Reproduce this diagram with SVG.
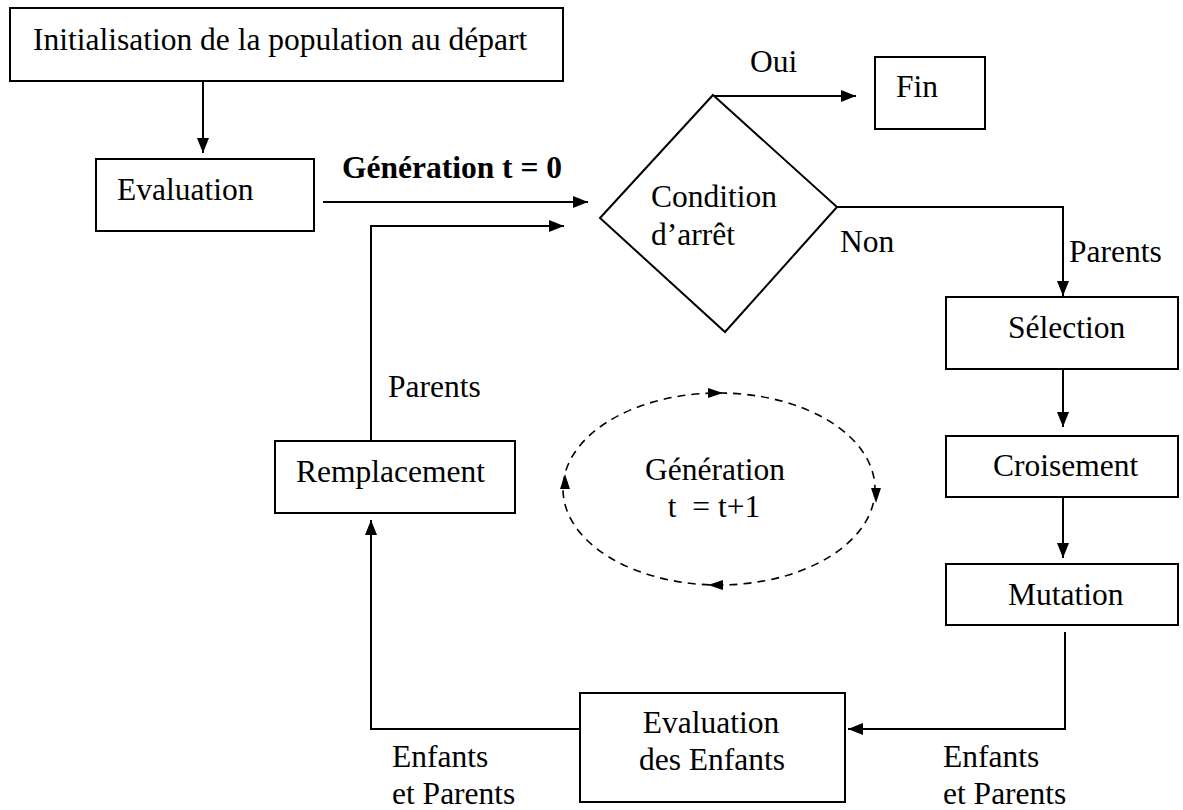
<svg xmlns="http://www.w3.org/2000/svg" width="1183" height="810" viewBox="0 0 1183 810">
<style>
  .box { fill: #fff; stroke: #000; stroke-width: 2; }
  .t { font-family: "Liberation Serif", "Times New Roman", serif; font-size: 31.5px; fill: #000; }
  .b { font-weight: bold; }
  .c { text-anchor: middle; }
  .ln { fill: none; stroke: #000; stroke-width: 2; }
  .dash { fill: none; stroke: #000; stroke-width: 1.6; stroke-dasharray: 8 6; }
  .ah { fill: #000; stroke: none; }
</style>
<defs>
  <marker id="arr" markerUnits="userSpaceOnUse" markerWidth="16" markerHeight="12" refX="15" refY="6" orient="auto">
    <path d="M0,0 L15,6 L0,12 z" fill="#000"/>
  </marker>
</defs>
<rect x="0" y="0" width="1183" height="810" fill="#fff"/>

<g id="connectors">
  <line class="ln" x1="203" y1="81" x2="203" y2="153" marker-end="url(#arr)"/>
  <line class="ln" x1="323" y1="202" x2="588" y2="202" marker-end="url(#arr)"/>
  <polyline class="ln" points="371,441 371,226 564,226" marker-end="url(#arr)"/>
  <line class="ln" x1="713" y1="96" x2="856" y2="96" marker-end="url(#arr)"/>
  <polyline class="ln" points="837,207 1063,207 1063,296" marker-end="url(#arr)"/>
  <line class="ln" x1="1063" y1="369" x2="1063" y2="427" marker-end="url(#arr)"/>
  <line class="ln" x1="1063" y1="497" x2="1063" y2="558" marker-end="url(#arr)"/>
  <polyline class="ln" points="1065,632 1065,729 848,729" marker-end="url(#arr)"/>
  <polyline class="ln" points="580,729 371,729 371,520" marker-end="url(#arr)"/>
</g>

<g id="init">
  <rect class="box" x="10" y="8" width="553" height="73"/>
  <text class="t" x="33" y="50">Initialisation de la population au départ</text>
</g>
<g id="evaluation">
  <rect class="box" x="96" y="159" width="218" height="72"/>
  <text class="t" x="117" y="200">Evaluation</text>
</g>
<g id="label-gen0">
  <text class="t b" x="342" y="178">Génération t = 0</text>
</g>
<g id="condition">
  <polygon class="box" points="713,95 837,207 725,332 600,218"/>
  <text class="t" x="651" y="207">Condition</text>
  <text class="t" x="651" y="245">d’arrêt</text>
</g>
<g id="label-oui"><text class="t" x="750" y="72">Oui</text></g>
<g id="label-non"><text class="t" x="840" y="252">Non</text></g>
<g id="label-parents-r"><text class="t" x="1069" y="262">Parents</text></g>
<g id="fin">
  <rect class="box" x="875" y="57" width="110" height="72"/>
  <text class="t" x="896" y="97">Fin</text>
</g>
<g id="selection">
  <rect class="box" x="946" y="297" width="232" height="72"/>
  <text class="t" x="1008" y="338">Sélection</text>
</g>
<g id="croisement">
  <rect class="box" x="946" y="436" width="232" height="61"/>
  <text class="t" x="993" y="476">Croisement</text>
</g>
<g id="mutation">
  <rect class="box" x="946" y="564" width="232" height="61"/>
  <text class="t" x="1008" y="605">Mutation</text>
</g>
<g id="eval-enfants">
  <rect class="box" x="580" y="693" width="265" height="109"/>
  <text class="t c" x="711" y="733">Evaluation</text>
  <text class="t c" x="712" y="770">des Enfants</text>
</g>
<g id="remplacement">
  <rect class="box" x="275" y="441" width="240" height="72"/>
  <text class="t" x="296" y="482">Remplacement</text>
</g>
<g id="label-parents-l"><text class="t" x="388" y="397">Parents</text></g>
<g id="label-ep-l">
  <text class="t" x="392" y="767">Enfants</text>
  <text class="t" x="392" y="804">et Parents</text>
</g>
<g id="label-ep-r">
  <text class="t" x="943" y="767">Enfants</text>
  <text class="t" x="943" y="804">et Parents</text>
</g>
<g id="generation-loop">
  <ellipse class="dash" cx="719" cy="489" rx="156" ry="96"/>
  <path class="ah" d="M708,388 L723,393 L708,398 z"/>
  <path class="ah" d="M871,488 L876,503 L881,488 z"/>
  <path class="ah" d="M723,580 L708,585 L723,590 z"/>
  <path class="ah" d="M560,489 L565,474 L570,489 z"/>
  <text class="t c" x="715" y="480">Génération</text>
  <text class="t c" x="714" y="517" style="white-space:pre">t  = t+1</text>
</g>
</svg>
